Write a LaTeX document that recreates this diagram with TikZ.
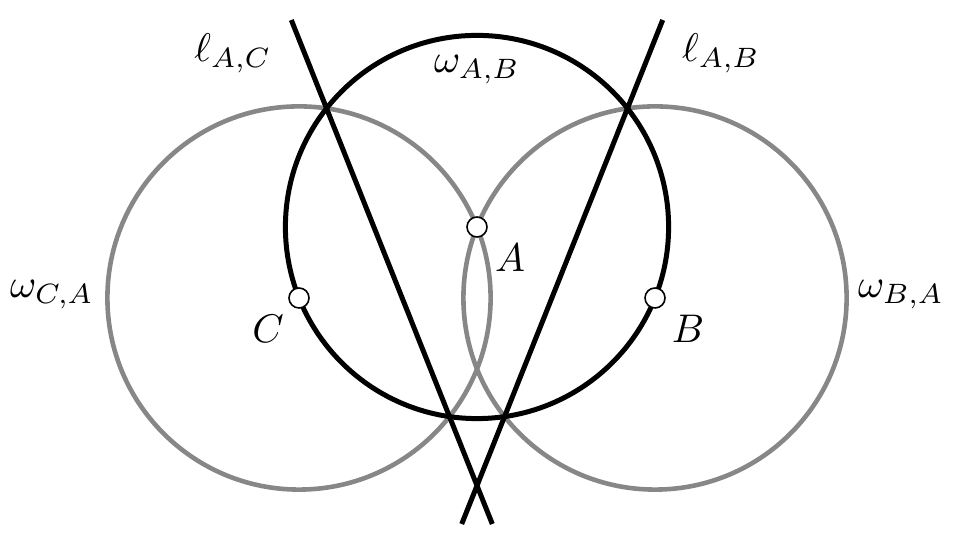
\documentclass[tikz,border=0pt]{standalone}
\definecolor{circgray}{gray}{0.53}
\begin{document}
\begin{tikzpicture}[x=0.25pt,y=-0.25pt,
  graycirc/.style={draw=circgray,line width=1.15pt},
  blackcirc/.style={draw=black,line width=1.25pt},
  bline/.style={draw=black,line width=1.25pt},
  pt/.style={circle,draw=black,fill=white,line width=0.4pt,inner sep=0pt,minimum size=5pt},
  lbl/.style={inner sep=0pt}]
\useasboundingbox (0,0) rectangle (961,541);
\coordinate (A) at (477,227);
\coordinate (C) at (299,298);
\coordinate (B) at (655,298);
\coordinate (lacs) at (291.3,20);
\coordinate (lace) at (492.3,524);
\coordinate (labs) at (662.7,20);
\coordinate (labe) at (461.7,524);
\draw[graycirc] (C) circle[radius=191.6];
\draw[graycirc] (B) circle[radius=191.6];
\draw[blackcirc] (A) circle[radius=191.6];
\draw[bline] (lacs) -- (lace);
\draw[bline] (labs) -- (labe);
\node[pt] (pA) at (A) {};
\node[pt] (pB) at (B) {};
\node[pt] (pC) at (C) {};
\node[lbl] (tA) at (510,258) {$A$};
\node[lbl] (tB) at (688,329) {$B$};
\node[lbl] (tC) at (268,329) {$C$};
\node[lbl] (tlac) at (233,53) {$\ell_{A,C}$};
\node[lbl] (tlab) at (721,53) {$\ell_{A,B}$};
\node[lbl] (twab) at (477,70) {$\omega_{A,B}$};
\node[lbl] (twca) at (52,295) {$\omega_{C,A}$};
\node[lbl] (twba) at (901,295) {$\omega_{B,A}$};
\end{tikzpicture}
\end{document}
